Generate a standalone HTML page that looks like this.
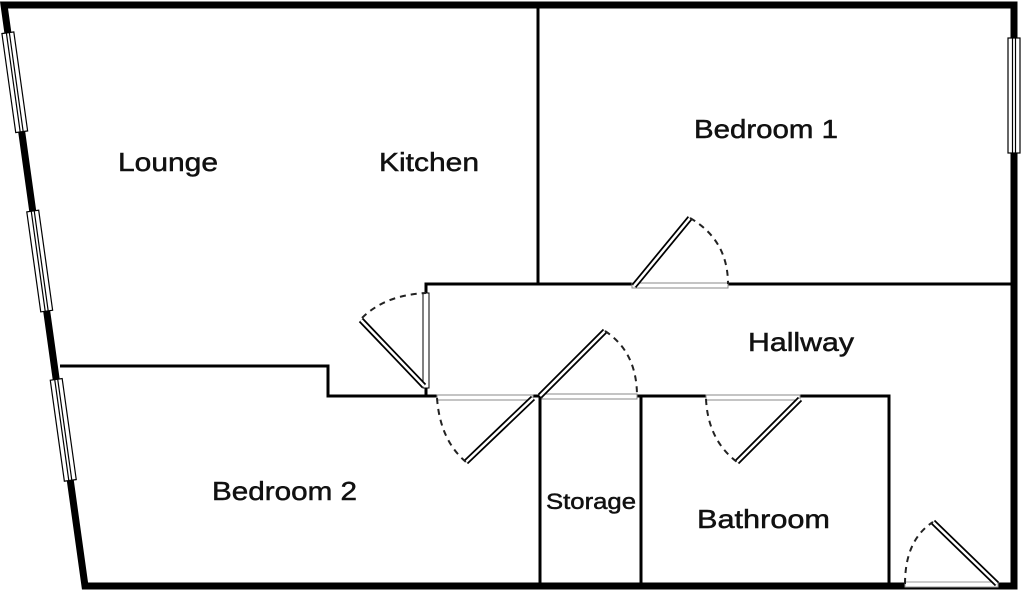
<!DOCTYPE html>
<html><head><meta charset="utf-8"><style>
html,body{margin:0;padding:0;background:#fff;width:1024px;height:594px;overflow:hidden}
text{font-family:"Liberation Sans",sans-serif;fill:#111;stroke:#111;stroke-width:0.5}
</style></head><body>
<svg width="1024" height="594" viewBox="0 0 1024 594" xmlns="http://www.w3.org/2000/svg">
<!-- outer walls -->
<path d="M4,5 L1014,5 L1014,586 L85,586 Z" fill="none" stroke="#000" stroke-width="7" stroke-linejoin="miter"/>
<!-- left wall windows -->
<g transform="translate(4,5) rotate(-7.94)">
 <g fill="#fff" stroke="#000" stroke-width="1.2">
  <rect x="-6" y="28" width="12" height="100"/><line x1="-1.5" y1="28" x2="-1.5" y2="128"/><line x1="1.5" y1="28" x2="1.5" y2="128"/>
  <rect x="-6" y="208" width="12" height="101"/><line x1="-1.5" y1="208" x2="-1.5" y2="309"/><line x1="1.5" y1="208" x2="1.5" y2="309"/>
  <rect x="-6" y="378" width="12" height="102"/><line x1="-1.5" y1="378" x2="-1.5" y2="480"/><line x1="1.5" y1="378" x2="1.5" y2="480"/>
 </g>
</g>
<!-- right window -->
<g fill="#fff" stroke="#000" stroke-width="1.2">
 <rect x="1008" y="38" width="12" height="115"/><line x1="1012.5" y1="38" x2="1012.5" y2="153"/><line x1="1015.5" y1="38" x2="1015.5" y2="153"/>
</g>
<!-- entry door opening -->
<rect x="905" y="582" width="93" height="5" fill="#fff" stroke="#999" stroke-width="1"/>
<!-- interior walls -->
<g stroke="#000" stroke-width="3" fill="none">
 <line x1="538" y1="5" x2="538" y2="284"/>
 <polyline points="426,297 426,284 632,284"/>
 <line x1="728" y1="284" x2="1014" y2="284"/>
 <polyline points="60,366 328,366 328,396 437,396"/>
 <line x1="426" y1="388" x2="426" y2="396"/>
 <line x1="533" y1="396" x2="540" y2="396"/>
 <polyline points="637,396 706,396"/>
 <polyline points="800,396 889,396 889,586"/>
 <line x1="540" y1="396" x2="540" y2="586"/>
 <line x1="641" y1="396" x2="641" y2="586"/>
</g>
<!-- door openings -->
<g fill="#fff" stroke="#888" stroke-width="1">
 <rect x="632" y="283" width="96" height="5"/>
 <rect x="437" y="395" width="96" height="5"/>
 <rect x="542" y="394" width="95" height="5"/>
 <rect x="706" y="395" width="94" height="5"/>
 <rect x="423" y="293" width="6" height="95" stroke="#000"/>
</g>
<!-- door leaves -->
<g stroke-linecap="butt">
 <line x1="634" y1="286" x2="690" y2="218" stroke="#000" stroke-width="6"/><line x1="634" y1="286" x2="690" y2="218" stroke="#fff" stroke-width="2.5"/>
 <line x1="540" y1="396" x2="605" y2="331" stroke="#000" stroke-width="6"/><line x1="540" y1="396" x2="605" y2="331" stroke="#fff" stroke-width="2.5"/>
 <line x1="533" y1="398" x2="466" y2="462" stroke="#000" stroke-width="6"/><line x1="533" y1="398" x2="466" y2="462" stroke="#fff" stroke-width="2.5"/>
 <line x1="424" y1="386" x2="361" y2="320" stroke="#000" stroke-width="6"/><line x1="424" y1="386" x2="361" y2="320" stroke="#fff" stroke-width="2.5"/>
 <line x1="800" y1="399" x2="737" y2="462" stroke="#000" stroke-width="6"/><line x1="800" y1="399" x2="737" y2="462" stroke="#fff" stroke-width="2.5"/>
 <line x1="997" y1="584" x2="933" y2="522" stroke="#000" stroke-width="6"/><line x1="997" y1="584" x2="933" y2="522" stroke="#fff" stroke-width="2.5"/>
</g>
<!-- swing arcs -->
<g fill="none" stroke="#222" stroke-width="2" stroke-dasharray="6,5">
 <path d="M690,218 Q728,240 728,284"/>
 <path d="M605,331 Q637,352 637,396"/>
 <path d="M437,398 Q440,440 466,462"/>
 <path d="M362,318 Q385,295 426,293"/>
 <path d="M706,399 Q708,440 737,462"/>
 <path d="M905,584 Q905,540 933,522"/>
</g>
<!-- labels -->
<g font-size="26" lengthAdjust="spacingAndGlyphs">
 <text x="118" y="171" textLength="100" lengthAdjust="spacingAndGlyphs">Lounge</text>
 <text x="379" y="171" textLength="100" lengthAdjust="spacingAndGlyphs">Kitchen</text>
 <text x="694" y="138" textLength="144" lengthAdjust="spacingAndGlyphs">Bedroom 1</text>
 <text x="748" y="351" textLength="106" lengthAdjust="spacingAndGlyphs">Hallway</text>
 <text x="212" y="500" textLength="145" lengthAdjust="spacingAndGlyphs">Bedroom 2</text>
 <text x="697" y="528" textLength="133" lengthAdjust="spacingAndGlyphs">Bathroom</text>
 <text x="546" y="509" font-size="22" textLength="90" lengthAdjust="spacingAndGlyphs">Storage</text>
</g>
</svg>
</body></html>
